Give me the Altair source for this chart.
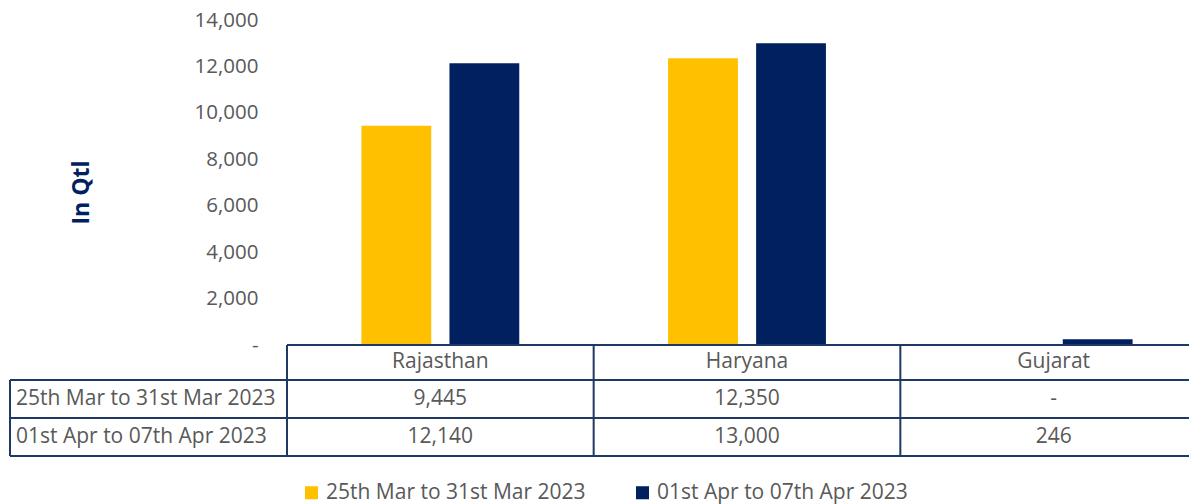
import altair as alt
import pandas as pd

states = ["Rajasthan", "Haryana", "Gujarat"]
periods = ["25th Mar to 31st Mar 2023", "01st Apr to 07th Apr 2023"]
period1_values = [9445, 12350, 0]
period2_values = [12140, 13000, 246]
colors = ["#FFC000", "#002060"]
y_ticks = [0, 2000, 4000, 6000, 8000, 10000, 12000, 14000]

rows = []
for i, s in enumerate(states):
    rows.append({"state": s, "period": periods[0], "value": period1_values[i]})
    rows.append({"state": s, "period": periods[1], "value": period2_values[i]})
df = pd.DataFrame(rows)
df_states = pd.DataFrame({"state": states})

FONT = "Open Sans"
TXT = "#595959"
LINE = "#1F3864"
FS = 21

W, H = 902, 325

x_scale = alt.Scale(domain=states, range=[0, 920], paddingInner=0, paddingOuter=0)

bars = alt.Chart(df).mark_bar().encode(
    x=alt.X("state:N", scale=x_scale, axis=None),
    xOffset=alt.XOffset("period:N", scale=alt.Scale(domain=periods, paddingInner=0.207, paddingOuter=0.845)),
    y=alt.Y(
        "value:Q",
        scale=alt.Scale(domain=[0, 14000], nice=False),
        axis=alt.Axis(
            values=y_ticks,
            labelExpr="datum.value == 0 ? '-' : format(datum.value, ',')",
            grid=False, domain=False, ticks=False, tickSize=0, labelPadding=29,
            labelFont=FONT, labelFontSize=20.5, labelColor=TXT,
            title="In Qtl", titleFont=FONT, titleFontSize=23, titleFontWeight="bold",
            titleColor="#002060", titleAngle=270, titleX=-206, titleY=172,
            titleAlign="center", titleBaseline="middle",
        ),
    ),
    color=alt.Color(
        "period:N",
        scale=alt.Scale(domain=periods, range=colors),
        legend=alt.Legend(
            title=None, orient="none", legendX=14, legendY=462, direction="horizontal",
            symbolType="square", symbolSize=170, symbolStrokeWidth=0,
            labelFont=FONT, labelFontSize=FS, labelColor=TXT, columnPadding=46,
            labelOffset=4, labelLimit=400,
        ),
    ),
)

header = alt.Chart(df_states).mark_text(font=FONT, fontSize=FS, color=TXT, baseline="middle").encode(
    x=alt.X("state:N", scale=x_scale, axis=None),
    y=alt.value(342),
    text="state:N",
)

row_layers = []
for i, p in enumerate(periods):
    yv = 379 + 38 * i
    vals = alt.Chart(df).transform_filter(alt.datum.period == p).transform_calculate(
        label="datum.value == 0 ? '-' : format(datum.value, ',')"
    ).mark_text(font=FONT, fontSize=FS, color=TXT, baseline="middle").encode(
        x=alt.X("state:N", scale=x_scale, axis=None),
        y=alt.value(yv),
        text="label:N",
    )
    lab = alt.Chart(pd.DataFrame({"period": [p]})).mark_text(
        font=FONT, fontSize=FS, color=TXT, align="left", baseline="middle"
    ).encode(x=alt.value(-271), y=alt.value(yv), text="period:N")
    row_layers += [vals, lab]

vlines = alt.Chart(df_states).mark_rule(color=LINE, strokeWidth=2).encode(
    x=alt.X("state:N", scale=x_scale, bandPosition=0, axis=None),
    y=alt.value(325),
    y2=alt.value(436),
)

one = pd.DataFrame({"k": [0]})


def hline(x1, x2, y):
    return alt.Chart(one).mark_rule(color=LINE, strokeWidth=2).encode(
        x=alt.value(x1), x2=alt.value(x2), y=alt.value(y)
    )


def vline(x, y1, y2):
    return alt.Chart(one).mark_rule(color=LINE, strokeWidth=2).encode(
        x=alt.value(x), y=alt.value(y1), y2=alt.value(y2)
    )


lines = [
    hline(0, 920, 325),
    hline(-277, 920, 360),
    hline(-277, 920, 398),
    hline(-277, 920, 436),
    vline(-277, 360, 436),
]

chart = alt.layer(bars, header, *row_layers, vlines, *lines).properties(
    width=W, height=H,
    autosize=alt.AutoSizeParams(type="none"),
    padding={"left": 279, "top": 12, "right": 0, "bottom": 160},
).configure_view(stroke=None)

chart.save("out.html", embed_options={"renderer": "svg", "actions": False})
